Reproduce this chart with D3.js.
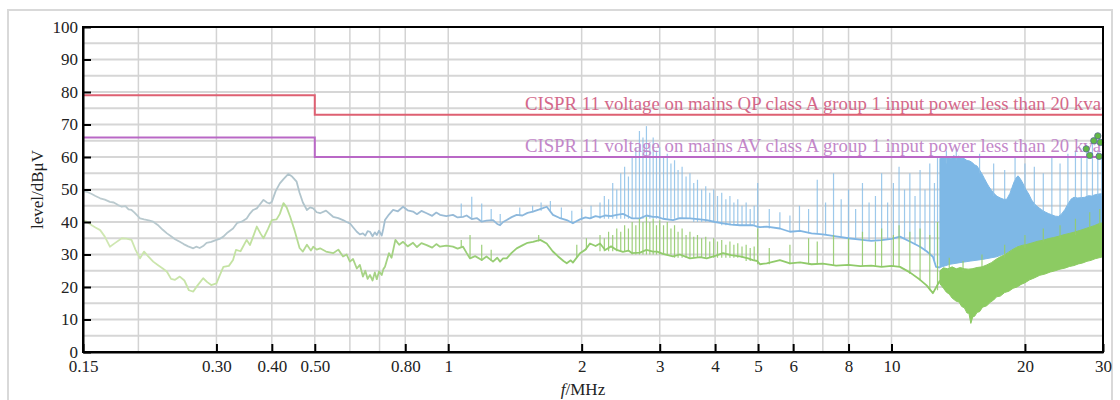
<!DOCTYPE html>
<html><head><meta charset="utf-8">
<script src="https://cdn.jsdelivr.net/npm/d3@7"></script>
<style>
body{margin:0;background:#fff}
svg{display:block}
text{font-family:"Liberation Serif","Times New Roman",serif}
</style>
</head><body>
<svg id="chart" width="1120" height="400"></svg>
<script>
// ---------- data ----------
const xTickValues = [0.15,0.3,0.4,0.5,0.8,1,2,3,4,5,6,8,10,20,30];
const xTickLabels = ["0.15","0.30","0.40","0.50","0.80","1","2","3","4","5","6","8","10","20","30"];
const xGridValues = [0.2,0.3,0.4,0.5,0.6,0.7,0.8,1,2,3,4,5,6,7,8,10,20];
const yTickValues = [0,10,20,30,40,50,60,70,80,90,100];
const yGridValues = [5,10,15,20,25,30,35,40,45,50,55,60,65,70,75,80,85,90,95];

const limitQP = [[0.15,79],[0.5,79],[0.5,73],[30,73]];
const limitAV = [[0.15,66],[0.5,66],[0.5,60],[30,60]];
const limitQPLabel = "CISPR 11 voltage on mains QP class A group 1 input power less than 20 kva";
const limitAVLabel = "CISPR 11 voltage on mains AV class A group 1 input power less than 20 kva";

// QP trace (MHz, dBµV)
const traceQP = [
 [0.150,49.5],[0.153,49.3],[0.157,48.6],[0.160,48.0],[0.164,47.3],[0.168,46.9],[0.1725,46.2],[0.176,46.0],[0.180,45.2],[0.1835,44.7],[0.187,44.9],[0.190,43.9],[0.193,43.7],[0.196,42.9],[0.2017,41.1],[0.206,40.8],[0.211,40.5],[0.216,40.1],[0.222,38.9],[0.227,37.6],[0.232,36.5],[0.237,35.6],[0.242,34.7],[0.248,33.9],[0.253,33.2],[0.259,32.5],[0.266,31.9],[0.270,32.4],[0.275,32.0],[0.280,32.6],[0.285,33.6],[0.292,33.9],[0.300,34.5],[0.306,34.9],[0.311,35.5],[0.318,36.8],[0.327,38.0],[0.334,39.7],[0.342,40.1],[0.351,41.1],[0.357,42.6],[0.363,43.7],[0.370,44.2],[0.377,45.6],[0.383,46.8],[0.390,46.0],[0.395,45.7],[0.400,46.2],[0.408,49.5],[0.417,51.9],[0.425,53.2],[0.436,54.8],[0.445,53.9],[0.455,52.4],[0.462,49.0],[0.470,46.0],[0.480,43.7],[0.488,44.5],[0.496,44.2],[0.505,43.0],[0.514,42.7],
 [0.53,43.5],[0.55,41.6],[0.565,41.2],[0.579,40.6],[0.59,40.0],[0.600,39.6],[0.61,38.4],[0.622,37.0],[0.632,36.2],[0.642,36.5],[0.650,35.8],[0.658,37.2],[0.666,37.0],[0.675,35.6],[0.683,36.8],[0.690,36.0],[0.698,37.3],[0.708,35.8],[0.714,38.0],[0.720,40.6],[0.735,42.3],[0.751,43.7],[0.770,43.3],[0.791,44.7],[0.81,43.6],[0.833,43.2],[0.85,42.4],[0.87,43.4],[0.894,42.7],[0.92,41.9],[0.94,42.9],[0.958,42.2],[0.99,41.8],[1.025,42.2],[1.05,41.4],[1.08,41.6],[1.10,42.0],[1.13,40.9],[1.16,41.2],[1.19,40.1],[1.22,40.4],[1.262,40.6],[1.29,39.4],[1.309,39.0],[1.33,40.0],[1.355,40.6],[1.39,41.5],[1.427,42.2],[1.47,42.0],[1.51,42.8],[1.553,43.2],[1.60,43.8],[1.668,44.7],[1.723,42.2],[1.78,41.3],[1.85,40.6],[1.911,39.6],[1.95,40.3],[1.983,40.8],[2.04,41.4],[2.088,41.1],[2.15,41.8],
 [2.2,41.5],[2.26,42.0],[2.33,41.8],[2.399,42.2],[2.478,42.5],[2.55,41.7],[2.60,41.1],[2.708,41.1],[2.80,42.0],[2.897,41.6],[2.96,41.6],[3.05,41.0],[3.214,40.6],[3.33,41.2],[3.51,41.1],[3.70,40.8],[3.828,40.6],[4.0,40.0],[4.167,39.6],[4.35,39.2],[4.552,39.0],[4.87,39.0],[4.98,38.6],
 [5.05,38.4],[5.229,38.6],[5.6,38.0],[5.9,37.0],[6.22,37.3],[6.6,36.5],[7.0,36.2],[7.5,35.6],[8.0,35.0],[8.5,34.6],[9.0,34.2],[9.5,34.4],[10.0,34.8],[10.45,35.5],[11.0,34.0],[11.6,32.4],[12.0,31.0],[12.4,29.3],[12.6,26.2],[12.86,26.0]
];
// AV trace
const traceAV = [
 [0.150,40.5],[0.153,40.1],[0.157,39.0],[0.160,38.3],[0.164,37.5],[0.168,35.5],[0.1725,32.4],[0.177,33.5],[0.1835,35.0],[0.188,34.9],[0.193,34.5],[0.197,31.5],[0.2017,28.8],[0.206,30.9],[0.210,29.6],[0.216,27.8],[0.222,26.6],[0.227,25.7],[0.232,24.7],[0.237,22.5],[0.242,22.2],[0.248,23.2],[0.254,22.0],[0.260,19.0],[0.266,18.6],[0.272,20.5],[0.280,22.7],[0.286,21.5],[0.292,20.6],[0.300,21.1],[0.305,23.5],[0.311,26.2],[0.320,26.5],[0.327,28.3],[0.332,31.4],[0.340,31.0],[0.351,34.5],[0.357,32.9],[0.363,35.5],[0.370,38.6],[0.377,36.5],[0.383,35.0],[0.392,37.8],[0.400,40.6],[0.410,40.8],[0.417,42.5],[0.425,45.8],[0.432,44.5],[0.440,41.6],[0.450,37.5],[0.462,32.0],[0.470,30.9],[0.480,33.0],[0.490,31.2],[0.496,32.4],[0.505,31.5],[0.514,31.9],
 [0.53,30.9],[0.55,30.4],[0.565,31.5],[0.579,29.4],[0.59,30.0],[0.600,27.8],[0.61,28.6],[0.622,25.7],[0.632,26.8],[0.642,23.2],[0.650,25.0],[0.658,22.5],[0.666,23.7],[0.675,22.0],[0.683,24.5],[0.690,22.4],[0.698,24.8],[0.708,23.7],[0.714,25.5],[0.720,26.2],[0.735,30.4],[0.745,29.0],[0.760,34.5],[0.775,33.0],[0.791,33.9],[0.81,32.5],[0.833,33.6],[0.85,32.3],[0.87,33.5],[0.894,32.9],[0.92,32.1],[0.94,33.2],[0.958,32.4],[0.99,32.7],[1.025,32.4],[1.05,31.8],[1.08,32.4],[1.10,30.5],[1.12,28.8],[1.15,29.5],[1.19,28.3],[1.22,29.4],[1.262,27.8],[1.29,29.0],[1.309,27.8],[1.33,28.8],[1.355,28.8],[1.39,30.5],[1.427,31.9],[1.47,32.8],[1.51,33.6],[1.553,33.9],[1.613,34.5],[1.668,33.4],[1.72,31.0],[1.77,29.4],[1.82,28.0],[1.851,27.3],[1.89,28.2],[1.911,27.5],[1.983,30.4],[2.04,31.5],[2.088,33.4],[2.15,32.6],
 [2.2,33.4],[2.26,31.4],[2.33,32.5],[2.399,31.4],[2.478,30.8],[2.55,31.2],[2.60,30.4],[2.708,30.6],[2.80,31.4],[2.897,30.9],[2.96,30.9],[3.05,30.2],[3.214,29.4],[3.33,30.0],[3.51,28.8],[3.70,29.2],[3.828,28.8],[4.0,29.6],[4.167,30.4],[4.35,29.8],[4.552,29.4],[4.75,28.8],[4.87,28.3],[4.98,28.0],
 [5.05,27.0],[5.229,27.3],[5.6,28.3],[5.9,27.3],[6.22,27.6],[6.6,27.0],[7.0,27.2],[7.5,26.6],[8.0,26.8],[8.5,26.4],[9.0,26.6],[9.5,26.2],[10.0,26.5],[10.45,26.2],[11.0,24.5],[11.6,22.2],[12.0,20.5],[12.4,18.1],[12.86,22.0]
];
// spikes: [MHz, low dB, high dB]
const spikesQP = [
 [1.07,41.5,45.7],[1.13,41,47.8],[1.19,40,45.7],[1.25,40.5,44],[1.31,39,42.5],[1.45,42,44.5],[1.55,43,45],[1.62,43.5,46],[1.70,43.5,46.5],[1.80,41,44.5],[1.90,40,43.5],[2.0,40.8,44],[2.1,41,45],
 [2.20,41,46],[2.25,41,48],[2.30,41,47],[2.35,41,52],[2.40,41,50],[2.45,41,55],[2.50,41,57],[2.55,41,54],[2.60,41,60],[2.65,41,63],[2.70,41,68],[2.75,41,66],[2.80,41,69.5],[2.85,41,64],[2.90,41,66],[2.95,41,62],[3.00,41,63],[3.06,41,60],[3.12,41,61],[3.18,41,58],[3.24,41,59],[3.30,41,56],[3.37,41,57],[3.44,41,54],[3.51,41,55],[3.58,40,52],[3.65,40,53],[3.73,40,50],[3.81,40,51],[3.89,40,49],[3.97,40,50],[4.05,40,48],[4.14,39,49],[4.23,39,47],[4.32,39,48],[4.41,39,46],[4.50,39,47],[4.60,39,45],[4.70,39,46],[4.80,39,44],[4.90,39,45],[4.99,38,52],
 [5.3,38,44],[5.6,38,43],[5.9,37,42],[6.2,37,45],[6.5,36.5,44],[6.8,36.5,53],[7.1,36,46],[7.4,36,55],[7.7,35.5,47],[8.0,35,50],[8.3,35,44],[8.6,35,52],[8.9,34.5,46],[9.2,34.5,48],[9.5,34.5,55],[9.8,34.5,46],[10.1,35,52],[10.4,35.5,57],[10.7,35,50],[11.0,34,55],[11.3,33,48],[11.6,32,56],[11.9,31,50],[12.2,30,58],[12.5,28,52],[12.7,27,60],
 [13.3,58,62],[14.0,59,63],[15.8,55,61],[17.0,48,58],[18.0,47,56],[19.0,53,60],[20.0,50,58],[21.0,45,57],[22.0,43,55],[23.0,42,60],[24.0,42,58],[25.0,45,61],[26.0,47,62],[26.8,47,60],[27.6,48,63],[28.4,48,65],[29.2,48,62],[29.8,48,60]
];
const spikesAV = [
 [1.07,32,34.5],[1.12,28.8,36],[1.19,28,33],[1.25,28,31.5],[1.6,34,36],[1.95,29,33],[2.05,31.5,35],
 [2.20,31,36],[2.25,31,35],[2.30,31,37],[2.35,31,36],[2.40,31,38],[2.45,31,37],[2.50,31,39],[2.55,31,38],[2.60,30,40],[2.65,30,39],[2.70,30,41],[2.75,30,40],[2.80,30,41.5],[2.85,30,40],[2.90,30,41],[2.95,30,39],[3.00,30,40.5],[3.06,30,39],[3.12,30,40],[3.18,30,38],[3.24,29,39],[3.30,29,37],[3.37,29,38],[3.44,29,36],[3.51,29,37],[3.58,29,35.5],[3.65,29,36],[3.73,29,35],[3.81,29,35.5],[3.89,29,34],[3.97,29,35],[4.05,29,34],[4.14,29,34.5],[4.23,29,33],[4.32,29,34],[4.41,29,33],[4.50,29,33.5],[4.60,29,32.5],[4.70,28,33],[4.80,28,32],[4.90,28,32.5],[4.99,27,38],
 [5.3,27,32],[5.9,27,33],[6.5,27,35],[6.8,27,34],[7.4,26.5,36],[8.0,26.5,35],[8.6,26.5,37],[9.2,26.5,34],[9.5,26.5,38],[10.1,26.5,36],[10.4,26.5,39],[11.0,24,37],[11.6,22,38],[12.2,19,36],[12.7,19,40],
 [13.5,25,29],[14.5,25,28],[16.0,26,30],[18.0,29,33],[20.0,32,36],[22.0,34,38],[24.0,35,39],[26.0,36,41],[28.0,38,43],[29.5,39,44]
];
// dense band 12.86–30 MHz
const bandQPUpper = [[12.86,59.5],[13.0,60.3],[13.2,59.4],[13.4,60.1],[13.6,59.5],[13.8,60.4],[14.0,60.0],[14.2,60.3],[14.4,59.6],[14.6,59.5],[14.8,58.9],[15.0,58.8],[15.2,58.3],[15.4,57.6],[15.6,57.2],[15.8,56.0],[16.0,54.8],[16.2,53.4],[16.4,52.0],[16.6,50.8],[16.8,49.8],[17.0,48.9],[17.3,47.9],[17.6,47.4],[17.9,47.0],[18.2,47.0],[18.5,48.8],[18.7,50.6],[18.9,52.3],[19.1,53.6],[19.3,54.2],[19.5,53.4],[19.7,52.4],[19.9,51.2],[20.1,50],[20.4,48.6],[20.7,46.8],[21.0,45.6],[21.4,44.6],[21.8,43.8],[22.2,43.1],[22.6,42.6],[23.0,42.2],[23.4,41.8],[23.8,41.7],[24.2,42.5],[24.6,43.8],[25.0,45.5],[25.4,47.0],[25.8,47.6],[26.3,47.4],[26.8,47.5],[27.3,47.6],[27.8,48.1],[28.3,48.0],[28.8,48.4],[29.3,48.6],[29.8,48.7],[30,48.8]];
const bandQPLower = [[12.86,26],[13.55,27],[14.27,27.5],[15.1,28],[16.05,28.5],[17.27,29.3],[18.18,30.5],[19.16,32.4],[20.85,33.5],[22.4,34.5],[23.98,35.5],[25.66,36.5],[27.5,38],[29.65,39.6],[30,39.6]];
const bandAVUpper = [[12.86,25],[13.1,25.9],[13.4,25.6],[13.7,26.2],[14.0,25.6],[14.3,26.0],[14.6,25.6],[14.9,25.5],[15.2,25.6],[15.6,26.0],[16.0,26.2],[16.4,26.8],[16.8,27.5],[17.2,28.5],[17.6,29.3],[18.0,29.9],[18.4,30.8],[18.8,31.6],[19.2,32.3],[19.7,32.8],[20.2,33.1],[20.8,33.6],[21.4,34.1],[22.0,34.4],[22.6,34.9],[23.2,35.2],[23.8,35.6],[24.5,36.1],[25.2,36.5],[25.9,36.9],[26.6,37.4],[27.3,37.9],[28.0,38.4],[28.7,38.9],[29.4,39.5],[30,39.8]];
const bandAVLower = [[12.86,21],[13.1,19.6],[13.3,18.4],[13.5,17.8],[13.7,16.6],[14.0,15.6],[14.2,15.4],[14.4,14.0],[14.6,13.6],[14.8,12.0],[14.95,11.9],[15.1,8.8],[15.25,10.8],[15.4,11.0],[15.6,12.2],[15.8,12.4],[16.05,13.8],[16.4,14.2],[16.7,15.3],[17.0,16.0],[17.27,17],[17.6,17.2],[18.0,18.3],[18.4,18.7],[18.8,19.6],[19.2,20.0],[19.6,20.8],[20.0,21.3],[20.5,22.2],[21.0,22.8],[21.6,23.6],[22.2,24.0],[22.8,24.6],[23.4,25.0],[24.0,25.5],[24.6,25.8],[25.2,26.3],[25.8,26.6],[26.4,27.1],[27.0,27.4],[27.6,27.9],[28.2,28.2],[28.8,28.7],[29.4,29.0],[30,29.3]];
const markers = [[27.5,62.5],[28.6,65],[29.2,66.5],[29.6,64.5],[28.0,60.5],[29.4,60.2]];

// ---------- drawing ----------
const svg = d3.select("#chart");
const x = d3.scaleLog().domain([0.15,30]).range([83,1103]);
const y = d3.scaleLinear().domain([0,100]).range([352,27]);

svg.append("rect").attr("x",8).attr("y",10).attr("width",1104).attr("height",400)
  .attr("fill","none").attr("stroke","#d9d9d9").attr("stroke-width",2);

const defs = svg.append("defs");
function grad(id, stops){
  const g = defs.append("linearGradient").attr("id",id).attr("gradientUnits","userSpaceOnUse")
    .attr("x1",x(0.15)).attr("x2",x(30)).attr("y1",0).attr("y2",0);
  stops.forEach(s=>g.append("stop").attr("offset",(x(s[0])-x(0.15))/(x(30)-x(0.15))).attr("stop-color",s[1]));
}
grad("gQP",[[0.15,"#bccbcf"],[0.5,"#b0c4cc"],[1,"#98bad6"],[2,"#84b6e0"],[30,"#7ab4e6"]]);
grad("gAV",[[0.15,"#d2e8b6"],[0.35,"#c2e2a0"],[0.6,"#a9d488"],[1.5,"#94cc70"],[30,"#8cc864"]]);

svg.append("g").selectAll("line").data(yGridValues).join("line")
  .attr("x1",x(0.15)).attr("x2",x(30)).attr("y1",d=>y(d)).attr("y2",d=>y(d))
  .attr("stroke","#d6d6d6").attr("stroke-width",1.8);
svg.append("g").selectAll("line").data(xGridValues).join("line")
  .attr("x1",d=>x(d)).attr("x2",d=>x(d)).attr("y1",y(0)).attr("y2",y(100))
  .attr("stroke","#d3d3d3").attr("stroke-width",1.5);

const line = d3.line().x(d=>x(d[0])).y(d=>y(d[1]));

// QP (blue)
svg.append("path").attr("d", line([...bandQPUpper, ...bandQPLower.slice().reverse()]) + "Z")
  .attr("fill","#7eb8e6").attr("stroke","#7eb8e6").attr("stroke-width",1);
svg.append("g").selectAll("line").data(spikesQP).join("line")
  .attr("x1",d=>x(d[0])).attr("x2",d=>x(d[0])).attr("y1",d=>y(d[1])).attr("y2",d=>y(d[2]))
  .attr("stroke","#8cc0e8").attr("stroke-width",1.2).attr("opacity",0.85);
svg.append("path").attr("d", line(traceQP)).attr("fill","none")
  .attr("stroke","url(#gQP)").attr("stroke-width",1.8).attr("stroke-linejoin","round");

// AV (green)
svg.append("path").attr("d", line([...bandAVUpper, ...bandAVLower.slice().reverse()]) + "Z")
  .attr("fill","#8ccb62").attr("stroke","#8ccb62").attr("stroke-width",1);
svg.append("g").selectAll("line").data(spikesAV).join("line")
  .attr("x1",d=>x(d[0])).attr("x2",d=>x(d[0])).attr("y1",d=>y(d[1])).attr("y2",d=>y(d[2]))
  .attr("stroke","#94cc6e").attr("stroke-width",1.2).attr("opacity",0.9);
svg.append("path").attr("d", line(traceAV)).attr("fill","none")
  .attr("stroke","url(#gAV)").attr("stroke-width",1.8).attr("stroke-linejoin","round");

// limit lines
svg.append("path").attr("d", line(limitQP)).attr("fill","none").attr("stroke","#de6072").attr("stroke-width",2);
svg.append("path").attr("d", line(limitAV)).attr("fill","none").attr("stroke","#b968c6").attr("stroke-width",2);
svg.append("text").attr("x",x(30)-2).attr("y",y(73)-5).attr("text-anchor","end")
  .attr("font-size",18.8).attr("fill","#d4688a").text(limitQPLabel);
svg.append("text").attr("x",x(30)-2).attr("y",y(60)-5).attr("text-anchor","end")
  .attr("font-size",18.8).attr("fill","#c387c9").text(limitAVLabel);

// markers
svg.append("g").selectAll("circle").data(markers).join("circle")
  .attr("cx",d=>x(d[0])).attr("cy",d=>y(d[1])).attr("r",3.2)
  .attr("fill","#62b845").attr("stroke","#5a6a9a").attr("stroke-width",0.8);

// frame
svg.append("rect").attr("x",x(0.15)).attr("y",y(100)).attr("width",x(30)-x(0.15)).attr("height",y(0)-y(100))
  .attr("fill","none").attr("stroke","#000").attr("stroke-width",2);

// axes
const yAxis = d3.axisLeft(y).tickValues(yTickValues).tickSizeInner(-8).tickSizeOuter(0).tickPadding(5).tickFormat(d3.format("d"));
const gy = svg.append("g").attr("transform",`translate(${x(0.15)},0)`).call(yAxis);
const xAxis = d3.axisBottom(x).tickValues(xTickValues).tickSizeInner(-8).tickSizeOuter(0).tickPadding(8)
  .tickFormat((d,i)=>xTickLabels[i]);
const gx = svg.append("g").attr("transform",`translate(0,${y(0)})`).call(xAxis);
[gx,gy].forEach(g=>{
  g.select(".domain").attr("stroke","#000").attr("stroke-width",2);
  g.selectAll(".tick line").attr("stroke","#000").attr("stroke-width",2);
  g.selectAll(".tick text").attr("font-family","'Liberation Serif','Times New Roman',serif")
    .attr("font-size",17).attr("fill","#222");
});

// axis titles
svg.append("text").attr("transform",`translate(43,${(y(0)+y(100))/2}) rotate(-90)`)
  .attr("text-anchor","middle").attr("font-size",17).attr("fill","#222").text("level/dBμV");
const xt = svg.append("text").attr("x",583).attr("y",395).attr("text-anchor","middle")
  .attr("font-size",17).attr("fill","#222");
xt.append("tspan").attr("font-style","italic").text("f");
xt.append("tspan").text("/MHz");
</script>
</body></html>
